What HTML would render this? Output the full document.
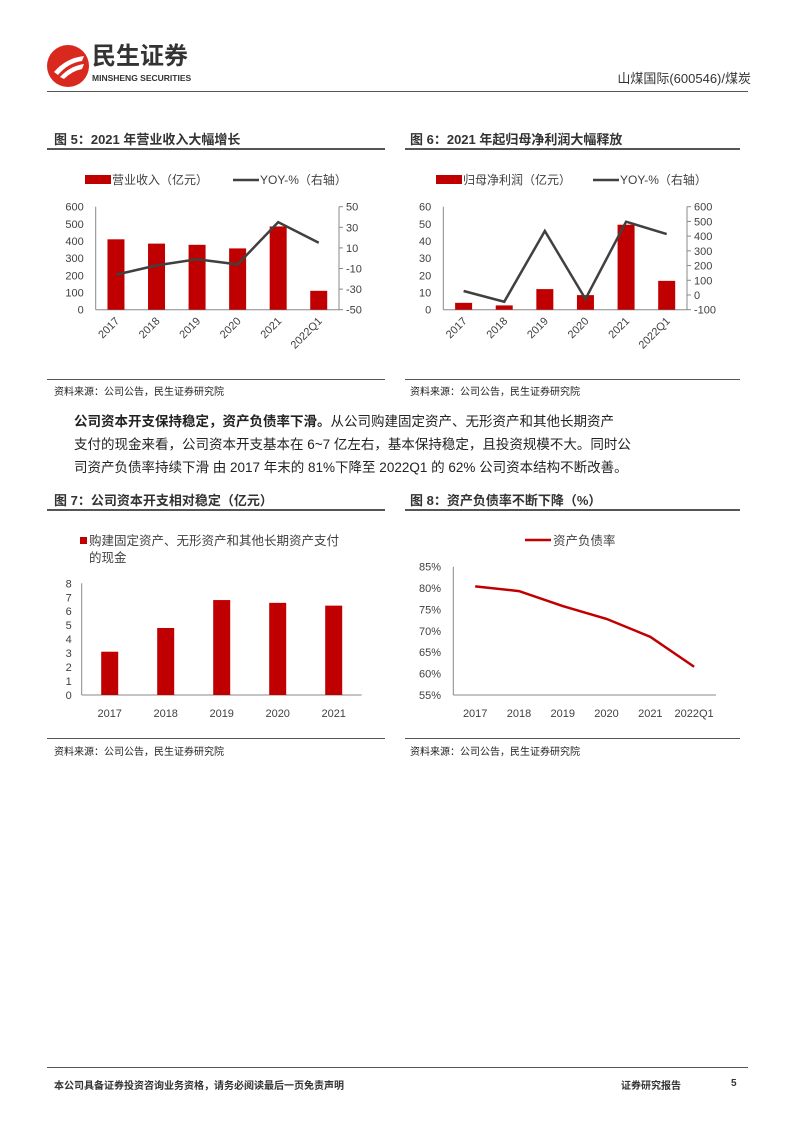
<!DOCTYPE html>
<html><head><meta charset="utf-8">
<style>
body{margin:0;width:793px;height:1122px;background:#fff;position:relative;font-family:"Liberation Sans","Noto Sans CJK SC",sans-serif;color:#333;overflow:hidden}
.a{position:absolute;white-space:nowrap}
.ttl{font-weight:bold;font-size:13px;color:#333;line-height:14px}
.src{font-size:10px;color:#222}
.hl{position:absolute;height:2px;background:#555}
.tl{position:absolute;height:1px;background:#555}
</style></head><body>
<svg class="a" style="left:46px;top:44px" width="44" height="44"><circle cx="22" cy="22" r="21" fill="#d9281e"/><path d="M8 28 Q20 14 38 12 L36 17 Q22 19 12 31Z M14 33 Q24 22 38 20 L36 25 Q26 27 18 35Z" fill="#fff"/></svg>
<div class="a" style="left:92px;top:44px;font-size:24px;line-height:26px;font-weight:bold;color:#333">民生证券</div>
<div class="a" style="left:92px;top:74px;font-size:8.5px;line-height:9px;font-weight:bold;color:#333">MINSHENG SECURITIES</div>
<div class="a" style="right:42px;top:68px;font-size:13px">山煤国际(600546)/煤炭</div>
<div class="tl" style="left:47px;top:91px;width:701px"></div>

<div class="a ttl" style="left:54px;top:133px">图 5：2021 年营业收入大幅增长</div>
<div class="hl" style="left:47px;top:148px;width:338px"></div>
<div class="a ttl" style="left:410px;top:133px">图 6：2021 年起归母净利润大幅释放</div>
<div class="hl" style="left:405px;top:148px;width:335px"></div>

<svg id="c1" class="a" style="left:0;top:0" width="793" height="1122"></svg>

<div class="tl" style="left:47px;top:379px;width:338px"></div>
<div class="a src" style="left:54px;top:383px">资料来源：公司公告，民生证券研究院</div>
<div class="tl" style="left:405px;top:379px;width:335px"></div>
<div class="a src" style="left:410px;top:383px">资料来源：公司公告，民生证券研究院</div>

<div class="a" style="left:74px;top:410px;font-size:13.5px;line-height:23px;color:#222;white-space:normal;width:580px"><b>公司资本开支保持稳定，资产负债率下滑。</b>从公司购建固定资产、无形资产和其他长期资产<br>支付的现金来看，公司资本开支基本在 6~7 亿左右，基本保持稳定，且投资规模不大。同时公<br>司资产负债率持续下滑 由 2017 年末的 81%下降至 2022Q1 的 62% 公司资本结构不断改善。</div>

<div class="a ttl" style="left:54px;top:494px">图 7：公司资本开支相对稳定（亿元）</div>
<div class="hl" style="left:47px;top:509px;width:338px"></div>
<div class="a ttl" style="left:410px;top:494px">图 8：资产负债率不断下降（%）</div>
<div class="hl" style="left:405px;top:509px;width:335px"></div>

<div class="tl" style="left:47px;top:738px;width:338px"></div>
<div class="a src" style="left:54px;top:743px">资料来源：公司公告，民生证券研究院</div>
<div class="tl" style="left:405px;top:738px;width:335px"></div>
<div class="a src" style="left:410px;top:743px">资料来源：公司公告，民生证券研究院</div>

<div class="tl" style="left:47px;top:1067px;width:701px"></div>
<div class="a" style="left:54px;top:1077px;font-size:10px;font-weight:bold">本公司具备证券投资咨询业务资格，请务必阅读最后一页免责声明</div>
<div class="a" style="left:621px;top:1077px;font-size:10px;font-weight:bold">证券研究报告</div>
<div class="a" style="left:731px;top:1078px;font-size:10px;font-weight:bold">5</div>

<script>
const cats1=["2017","2018","2019","2020","2021","2022Q1"];
const revenue=[410,385,378,357,485,110];
const revYoy=[-16,-7,-1,-6,35,15];
const profit=[4,2.5,12,8.5,49.5,16.8];
const profitYoy=[27,-46,435,-27,498,414];
const cats3=["2017","2018","2019","2020","2021"];
const capex=[3.1,4.8,6.8,6.6,6.4];
const cats4=["2017","2018","2019","2020","2021","2022Q1"];
const debtRatio=[80.4,79.3,75.8,72.8,68.6,61.6];
const ticks1L=[0,100,200,300,400,500,600], ticks1R=[-50,-30,-10,10,30,50];
const ticks2L=[0,10,20,30,40,50,60], ticks2R=[-100,0,100,200,300,400,500,600];
const ticks3=[0,1,2,3,4,5,6,7,8];
const ticks4=[55,60,65,70,75,80,85];

const svg=document.getElementById('c1');
const NS="http://www.w3.org/2000/svg";
function mk(t,a,txt){const e=document.createElementNS(NS,t);for(const k in a)e.setAttribute(k,a[k]);if(txt!==undefined)e.textContent=txt;svg.appendChild(e);return e;}
const RED="#c00000",GR="#404040",AX="#888";

function dual(x0,x1,yT,yB,cats,bars,bmin,bmax,line,lmin,lmax,tL,tR,name,legBar,legX,legLineX){
  const n=cats.length,bw=(x1-x0)/n;
  const xs=i=>x0+bw*(i+0.5);
  const yb=v=>yB-(v-bmin)/(bmax-bmin)*(yB-yT);
  const yl=v=>yB-(v-lmin)/(lmax-lmin)*(yB-yT);
  let e=mk('line',{x1:x0,y1:yT,x2:x0,y2:yB,stroke:AX});
  
  e=mk('line',{x1:x1,y1:yT,x2:x1,y2:yB,stroke:AX});
  
  e=mk('line',{x1:x0,y1:yB,x2:x1,y2:yB,stroke:AX});
  
  tL.forEach(t=>{e=mk('text',{x:x0-12,y:yb(t)+4,'text-anchor':'end','font-size':11,fill:'#404040'},t);
    });
  tR.forEach(t=>{mk('line',{x1:x1,y1:yl(t),x2:x1+4,y2:yl(t),stroke:AX});
    e=mk('text',{x:x1+7,y:yl(t)+4,'font-size':11,fill:'#404040'},t);
    });
  bars.forEach((v,i)=>{e=mk('rect',{x:xs(i)-8.5,y:yb(v),width:17,height:yB-yb(v),fill:RED});
    });
  e=mk('polyline',{points:line.map((v,i)=>xs(i)+','+yl(v)).join(' '),fill:'none',stroke:GR,'stroke-width':2.5});
  
  cats.forEach((c,i)=>{const tx=xs(i)+4,ty=yB+12;
    e=mk('text',{x:tx,y:ty,'text-anchor':'end','font-size':11,fill:'#404040',transform:`rotate(-45 ${tx} ${ty})`},c);
    });
  e=mk('rect',{x:legX,y:175,width:26,height:9,fill:RED});
  
  e=mk('text',{x:legX+27,y:184,'font-size':12,fill:'#404040'},legBar);
  
  e=mk('line',{x1:legLineX,y1:180,x2:legLineX+26,y2:180,stroke:GR,'stroke-width':2.5});
  
  e=mk('text',{x:legLineX+27,y:184,'font-size':12,fill:'#404040'},'YOY-%（右轴）');
  
}
dual(95.7,339,206.7,309.7,cats1,revenue,0,600,revYoy,-50,50,ticks1L,ticks1R,'rev','营业收入（亿元）',85,233);
dual(443.3,687,206.7,309.7,cats1,profit,0,60,profitYoy,-100,600,ticks2L,ticks2R,'profit','归母净利润（亿元）',436,593);

// chart 3
(function(){
  const x0=81.7,x1=361.7,yT=583.3,yB=695,n=cats3.length,bw=(x1-x0)/n;
  const xs=i=>x0+bw*(i+0.5), y=v=>yB-v/8*(yB-yT);
  let e=mk('line',{x1:x0,y1:yT,x2:x0,y2:yB,stroke:AX});
  
  e=mk('line',{x1:x0,y1:yB,x2:x1,y2:yB,stroke:AX});
  
  ticks3.forEach(t=>{e=mk('text',{x:x0-10,y:y(t)+4,'text-anchor':'end','font-size':11,fill:'#404040'},t);
    });
  capex.forEach((v,i)=>{e=mk('rect',{x:xs(i)-8.5,y:y(v),width:17,height:yB-y(v),fill:RED});
    });
  cats3.forEach((c,i)=>{e=mk('text',{x:xs(i),y:717,'text-anchor':'middle','font-size':11,fill:'#404040'},c);
    });
  e=mk('rect',{x:80,y:537,width:7,height:7,fill:RED});
  
  e=mk('text',{x:89,y:545,'font-size':12.5,fill:'#404040'},'购建固定资产、无形资产和其他长期资产支付');
  
  e=mk('text',{x:89,y:562,'font-size':12.5,fill:'#404040'},'的现金');
  
})();

// chart 4
(function(){
  const x0=453.3,x1=716,yT=566.7,yB=695,n=cats4.length,bw=(x1-x0)/n;
  const xs=i=>x0+bw*(i+0.5), y=v=>yB-(v-55)/30*(yB-yT);
  let e=mk('line',{x1:x0,y1:yT,x2:x0,y2:yB,stroke:AX});
  
  e=mk('line',{x1:x0,y1:yB,x2:x1,y2:yB,stroke:AX});
  
  ticks4.forEach(t=>{e=mk('text',{x:441,y:y(t)+4,'text-anchor':'end','font-size':11,fill:'#404040'},t+'%');
    });
  e=mk('polyline',{points:debtRatio.map((v,i)=>xs(i)+','+y(v)).join(' '),fill:'none',stroke:RED,'stroke-width':2.5});
  
  cats4.forEach((c,i)=>{e=mk('text',{x:xs(i),y:717,'text-anchor':'middle','font-size':11,fill:'#404040'},c);
    });
  e=mk('line',{x1:525,y1:540,x2:551,y2:540,stroke:RED,'stroke-width':2.5});
  
  e=mk('text',{x:553,y:545,'font-size':12.5,fill:'#404040'},'资产负债率');
  
})();
</script>
</body></html>
